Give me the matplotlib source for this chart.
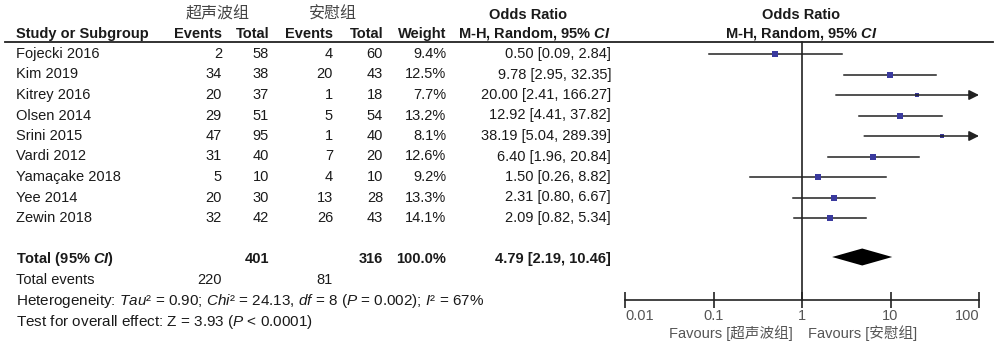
import matplotlib
matplotlib.use('Agg')
import matplotlib.pyplot as plt
import matplotlib.ticker as mticker

plt.rcParams['font.family'] = ['Liberation Sans', 'Noto Sans CJK SC', 'DejaVu Sans']
plt.rcParams['mathtext.fontset'] = 'custom'
plt.rcParams['mathtext.rm'] = 'Liberation Sans'
plt.rcParams['mathtext.it'] = 'Liberation Sans:italic'
plt.rcParams['mathtext.bf'] = 'Liberation Sans:bold'
plt.rcParams['mathtext.bfit'] = 'Liberation Sans:italic:bold'

TEXT  = "#1a1a1a"
GREY  = "#555555"
BLUE  = "#3a3a9e"
LINE  = "#222222"

GROUP_A = "超声波组"
GROUP_B = "安慰组"

studies  = ["Fojecki 2016", "Kim 2019", "Kitrey 2016", "Olsen 2014", "Srini 2015",
            "Vardi 2012", "Yamaçake 2018", "Yee 2014", "Zewin 2018"]
events_a = [2, 34, 20, 29, 47, 31, 5, 20, 32]
total_a  = [58, 38, 37, 51, 95, 40, 10, 30, 42]
events_b = [4, 20, 1, 5, 1, 7, 4, 13, 26]
total_b  = [60, 43, 18, 54, 40, 20, 10, 28, 43]
weights  = [9.4, 12.5, 7.7, 13.2, 8.1, 12.6, 9.2, 13.3, 14.1]
odds     = [0.50, 9.78, 20.00, 12.92, 38.19, 6.40, 1.50, 2.31, 2.09]
ci_lo    = [0.09, 2.95, 2.41, 4.41, 5.04, 1.96, 0.26, 0.80, 0.82]
ci_hi    = [2.84, 32.35, 166.27, 37.82, 289.39, 20.84, 8.82, 6.67, 5.34]

pooled    = (4.79, 2.19, 10.46)
sum_total = (401, 316)
sum_event = (220, 81)
ticks     = [0.01, 0.1, 1, 10, 100]

# layout in pixel units (figure is 1000 x 351)
row0, step = 54, 20.5
rows = [row0 + step * i for i in range(len(studies))]
y_total, y_events, y_het, y_test = 259, 280, 301, 322
x_name, x_ea, x_ta, x_eb, x_tb, x_w, x_or = 16, 222, 269, 333, 383, 446, 611
FS = 10.5

fig = plt.figure(figsize=(10, 3.51), dpi=100)
fig.patch.set_facecolor("white")

tab = fig.add_axes([0, 0, 1, 1])
tab.set_xlim(0, 1000)
tab.set_ylim(351, 0)
tab.axis('off')

# headers
tab.text(218, 14, GROUP_A, ha='center', va='center', fontsize=11.5, color="#444444",
         family=['Noto Sans CJK SC'])
tab.text(333, 14, GROUP_B, ha='center', va='center', fontsize=11.5, color="#444444",
         family=['Noto Sans CJK SC'])
tab.text(528, 15, "Odds Ratio", ha='center', va='center', fontsize=FS, fontweight='bold', color=TEXT)
tab.text(801, 15, "Odds Ratio", ha='center', va='center', fontsize=FS, fontweight='bold', color=TEXT)
hdr = dict(va='center', fontsize=FS, fontweight='bold', color=TEXT)
tab.text(x_name, 34, "Study or Subgroup", ha='left', **hdr)
tab.text(x_ea, 34, "Events", ha='right', **hdr)
tab.text(x_ta, 34, "Total", ha='right', **hdr)
tab.text(x_eb, 34, "Events", ha='right', **hdr)
tab.text(x_tb, 34, "Total", ha='right', **hdr)
tab.text(x_w, 34, "Weight", ha='right', **hdr)
tab.text(x_or, 34, r"M-H, Random, 95% $\mathbfit{CI}$", ha='right', **hdr)
tab.text(801, 34, r"M-H, Random, 95% $\mathbfit{CI}$", ha='center', **hdr)
tab.plot([5, 993], [42, 42], color=LINE, lw=1.3)

# study rows
for i, name in enumerate(studies):
    y = rows[i]
    kw = dict(va='center', fontsize=FS, color=TEXT)
    tab.text(x_name, y, name, ha='left', **kw)
    tab.text(x_ea, y, str(events_a[i]), ha='right', **kw)
    tab.text(x_ta, y, str(total_a[i]), ha='right', **kw)
    tab.text(x_eb, y, str(events_b[i]), ha='right', **kw)
    tab.text(x_tb, y, str(total_b[i]), ha='right', **kw)
    tab.text(x_w, y, f"{weights[i]:.1f}%", ha='right', **kw)
    tab.text(x_or, y, f"{odds[i]:.2f} [{ci_lo[i]:.2f}, {ci_hi[i]:.2f}]", ha='right', **kw)

# totals
bkw = dict(va='center', fontsize=FS, fontweight='bold', color=TEXT)
tab.text(x_name, y_total, r"Total (95% $\mathbfit{CI}$)", ha='left', **bkw)
tab.text(x_ta, y_total, str(sum_total[0]), ha='right', **bkw)
tab.text(x_tb, y_total, str(sum_total[1]), ha='right', **bkw)
tab.text(x_w, y_total, "100.0%", ha='right', **bkw)
tab.text(x_or, y_total, f"{pooled[0]:.2f} [{pooled[1]:.2f}, {pooled[2]:.2f}]", ha='right', **bkw)
kw = dict(va='center', fontsize=FS, color=TEXT)
tab.text(x_name, y_events, "Total events", ha='left', **kw)
tab.text(x_ea, y_events, str(sum_event[0]), ha='right', **kw)
tab.text(x_eb, y_events, str(sum_event[1]), ha='right', **kw)
tab.text(x_name, y_het,
         r"Heterogeneity: $Tau$² = 0.90; $Chi$² = 24.13, $df$ = 8 ($P$ = 0.002); $I$² = 67%",
         ha='left', va='center', fontsize=11, color=TEXT)
tab.text(x_name, y_test, r"Test for overall effect: Z = 3.93 ($P$ < 0.0001)",
         ha='left', va='center', fontsize=11, color=TEXT)

# forest panel: log x, pixel y (0 at top, 300 at axis line)
ax = fig.add_axes([625 / 1000, (351 - 300) / 351, 354 / 1000, 300 / 351])
ax.set_xscale('log')
ax.set_xlim(ticks[0], ticks[-1])
ax.set_ylim(300, 0)
ax.patch.set_alpha(0)
for s in ['top', 'right', 'left']:
    ax.spines[s].set_visible(False)
ax.spines['bottom'].set_color(LINE)
ax.spines['bottom'].set_linewidth(1.2)
ax.set_yticks([])
ax.set_xticks(ticks)
ax.xaxis.set_minor_locator(mticker.NullLocator())
ax.xaxis.set_major_formatter(mticker.FuncFormatter(lambda v, _: f"{v:g}"))
ax.tick_params(axis='x', direction='inout', length=11, width=1.2, color=LINE,
               labelsize=FS, labelcolor=GREY, pad=1)
tick_labels = ax.get_xticklabels()
tick_labels[0].set_horizontalalignment('left')
tick_labels[-1].set_horizontalalignment('right')

ax.plot([1, 1], [42, 300], color=LINE, lw=1.2, clip_on=False)

xmax = ticks[-1]
for i in range(len(studies)):
    y = rows[i]
    if ci_hi[i] > xmax:
        ax.annotate("", xy=(xmax, y), xytext=(ci_lo[i], y),
                    arrowprops=dict(arrowstyle='-|>,head_length=0.6,head_width=0.3',
                                    color=LINE, lw=1.1, shrinkA=0, shrinkB=0),
                    annotation_clip=False)
    else:
        ax.plot([ci_lo[i], ci_hi[i]], [y, y], color=LINE, lw=1.1)
    ax.plot(odds[i], y, marker='s', color=BLUE, markeredgewidth=0,
            markersize=1.25 * weights[i] ** 0.5)

est, lo, hi = pooled
ax.fill([lo, est, hi, est], [y_total - 2, y_total - 10.5, y_total - 2, y_total + 6.5],
        color="black", lw=0)

tab.text(793, 333, "Favours [" + GROUP_A + "]", ha='right', va='center', fontsize=FS,
         color=GREY, family=['Liberation Sans', 'Noto Sans CJK SC'])
tab.text(808, 333, "Favours [" + GROUP_B + "]", ha='left', va='center', fontsize=FS,
         color=GREY, family=['Liberation Sans', 'Noto Sans CJK SC'])

plt.savefig("out.png", dpi=100, facecolor="white")
plt.close()
